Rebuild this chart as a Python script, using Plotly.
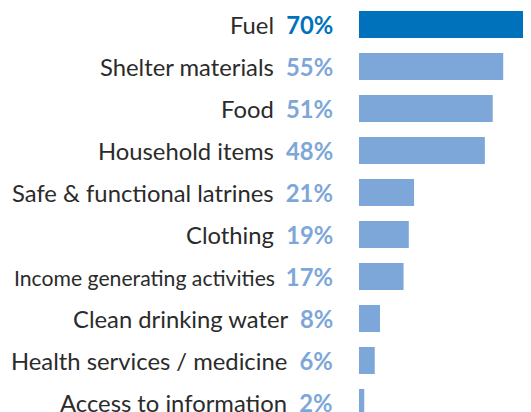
import plotly.graph_objects as go

categories = ["Fuel", "Shelter materials", "Food", "Household items",
              "Safe & functional latrines", "Clothing", "Income generating activities",
              "Clean drinking water", "Health services / medicine", "Access to information"]
values = [70, 55, 51, 48, 21, 19, 17, 8, 6, 2]
label_sizes = [23.8, 23.8, 23.8, 23.8, 23.8, 23.8, 21.2, 23.8, 23.8, 23.8]

DARK = "#0072BC"
LIGHT = "#7DA7D9"
colors = [DARK] + [LIGHT] * (len(values) - 1)
positions = list(range(len(categories)))

fig = go.Figure(go.Bar(
    x=values, y=positions, orientation="h",
    marker=dict(color=colors, line=dict(width=0)),
    width=0.643, hoverinfo="skip",
))

annotations = []
for pos, cat, val, col, fs in zip(positions, categories, values, colors, label_sizes):
    annotations.append(dict(
        xref="paper", x=0, yref="y", y=pos, xanchor="right", yanchor="middle",
        xshift=-24, showarrow=False,
        text=f"<span style='font-size:{fs}px'>{cat}&nbsp;&nbsp;</span><b><span style='color:{col}'>{val}%</span></b>",
        font=dict(family="Lato", size=23.8, color="#2b2b2b"),
    ))

# page body has an 8px margin, so the figure is offset by 8px in the window
fig.update_layout(
    width=523, height=404,
    margin=dict(l=351, r=0, t=0, b=0),
    paper_bgcolor="white", plot_bgcolor="white",
    showlegend=False,
    xaxis=dict(range=[0, 65.6], visible=False, fixedrange=True),
    yaxis=dict(range=[9.226, -0.393], visible=False, fixedrange=True),
    annotations=annotations,
)

fig.write_html("out.html")
